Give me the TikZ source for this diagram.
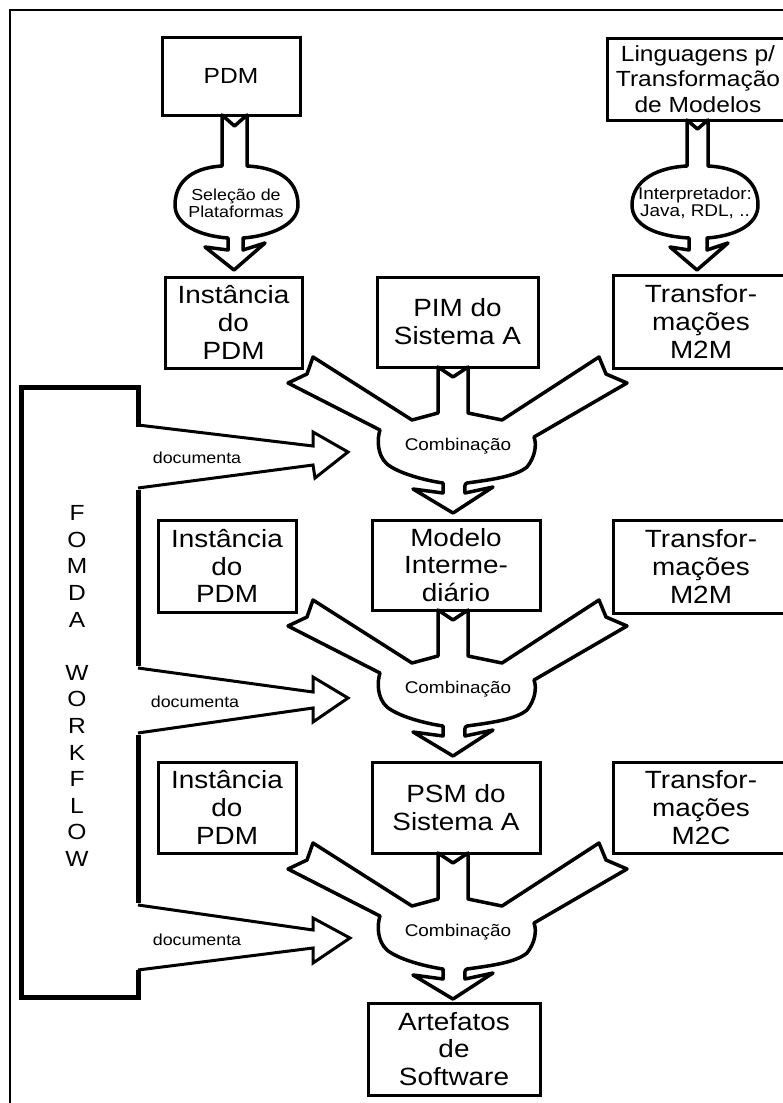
\documentclass[tikz,border=0pt]{standalone}
\usepackage{fontspec}
\setmainfont{Liberation Sans}[FakeStretch=1.12]
\newcommand\myboxfont{\fontsize{25}{28}\selectfont}
\newcommand\mytopfont{\fontsize{22}{25.5}\selectfont}
\newcommand\mysmallfont{\fontsize{16}{17}\selectfont}
\newcommand\mycombfont{\fontsize{17}{17}\selectfont}
\newcommand\myletterfont{\fontsize{22}{26.7}\selectfont}
\begin{document}
\begin{tikzpicture}[x=1bp,y=-1bp,
  box/.style={draw,line width=3bp,inner sep=0pt,align=center,font=\myboxfont},
  topbox/.style={box,font=\mytopfont},
  blockline/.style={draw,fill=white,line width=3.5bp,line join=round},
  docarrow/.style={draw,line width=3bp,line join=miter},
  bracket/.style={draw,line width=5bp,line join=miter},
  smalltext/.style={font=\mysmallfont,inner sep=0pt,align=center},
  comb/.pic={
    \path[blockline] (-15,0) -- (0,10) -- (15,0) -- (15,46) -- (49,53)
      -- (146,-10) -- (153,7) -- (174,16) -- (81,70)
      .. controls (84,78) and (82,90) .. (74,100)
      .. controls (62,110) and (35,113) .. (14,116)
      .. controls (11,117) and (12,120) .. (12,126)
      -- (40,120) -- (0,146) -- (-40,122) -- (-10,126) -- (-10,116)
      .. controls (-30,113) and (-55,106) .. (-66,97)
      .. controls (-76,88) and (-76,72) .. (-73,63)
      -- (-165,16) -- (-146,7) -- (-140,-10) -- (-41,53) -- (-15,46) -- cycle;
    \node[smalltext,font=\mycombfont] (-txt) at (5,79) {Combinação};
  }]
\useasboundingbox (0,0) rectangle (783,1103);
\clip (0,0) rectangle (783,1103);

% outer frame
\draw[line width=1.5bp] (10,10) rectangle (800,1120);

% top row
\node[topbox,minimum width=138bp,minimum height=78bp] (pdm) at (231,76) {PDM};
\node[topbox,minimum width=182bp,minimum height=82bp] (lang) at (698,79)
  {Linguagens p/\\Transformação\\de Modelos};

% selection arrows with their oval labels
\path[blockline] (222,115) -- (234.5,126) -- (247,115) -- (247,166)
  .. controls (285,168) and (298,185) .. (298,205)
  .. controls (298,225) and (270,236) .. (243,238)
  -- (243,250) -- (265,243) -- (234,270) -- (205,247) -- (228,250) -- (228,238)
  .. controls (200,236) and (175,225) .. (175,205)
  .. controls (175,185) and (188,168) .. (222,166) -- cycle;
\node[smalltext] (sel) at (236,203) {Seleção de\\Plataformas};

\path[blockline] (687,120) -- (697.5,129) -- (708,120) -- (708,166)
  .. controls (745,168) and (758,185) .. (758,205)
  .. controls (758,225) and (735,236) .. (707,238)
  -- (707,250) -- (728,243) -- (697,270) -- (670,247) -- (689,250) -- (689,238)
  .. controls (655,236) and (632,225) .. (632,205)
  .. controls (632,185) and (650,168) .. (687,166) -- cycle;
\node[smalltext,font=\fontsize{17}{17}\selectfont] (interp) at (695,203) {Interpretador:\\Java, RDL, ..};

% row 1
\node[box,minimum width=137bp,minimum height=91bp] (inst1) at (233.5,322.5) {Instância\\do\\PDM};
\node[box,minimum width=161bp,minimum height=90bp] (pim) at (457.5,322) {PIM do\\Sistema A};
\node[box,minimum width=176bp,minimum height=93bp] (tr1) at (701,321.5) {Transfor-\\mações\\M2M};

% row 2
\node[box,minimum width=138bp,minimum height=92bp] (inst2) at (227,566) {Instância\\do\\PDM};
\node[box,minimum width=168bp,minimum height=90bp] (mod) at (456,565) {Modelo\\Interme-\\diário};
\node[box,minimum width=176bp,minimum height=93bp] (tr2) at (701,566.5) {Transfor-\\mações\\M2M};

% row 3
\node[box,minimum width=138bp,minimum height=91bp] (inst3) at (227,807.5) {Instância\\do\\PDM};
\node[box,minimum width=168bp,minimum height=91bp] (psm) at (456,807.5) {PSM do\\Sistema A};
\node[box,minimum width=176bp,minimum height=91bp] (tr3) at (701,807.5) {Transfor-\\mações\\M2C};

% result
\node[box,minimum width=172bp,minimum height=92bp] (art) at (454,1049) {Artefatos\\de\\Software};

% merging block arrows
\pic (c1) at (453,367) {comb};
\pic (c2) at (453,610) {comb};
\pic (c3) at (453,853) {comb};

% FOMDA workflow bracket
\path[bracket] (138,427) -- (138,387) -- (21,387) -- (21,997) -- (138,997) -- (138,970);
\path[bracket] (138,490) -- (138,666);
\path[bracket] (138,735) -- (138,903);
\node[font=\myletterfont,align=center,inner sep=0pt] (fomda) at (77,686)
  {F\\O\\M\\D\\A\\[26.7bp]W\\O\\R\\K\\F\\L\\O\\W};

% "documenta" arrows
\path[docarrow] (138,425) -- (313,446) -- (313,432) -- (348,452) -- (315,478) -- (313,465) -- (138,488);
\node[smalltext] (doc1) at (197,458) {documenta};
\path[docarrow] (138,668) -- (313,692) -- (313,677) -- (348,698) -- (313,722) -- (313,708) -- (138,733);
\node[smalltext] (doc2) at (195,702) {documenta};
\path[docarrow] (138,905) -- (313,930) -- (313,918) -- (350,938) -- (313,963) -- (313,948) -- (138,970);
\node[smalltext] (doc3) at (197,940) {documenta};
\end{tikzpicture}
\end{document}
